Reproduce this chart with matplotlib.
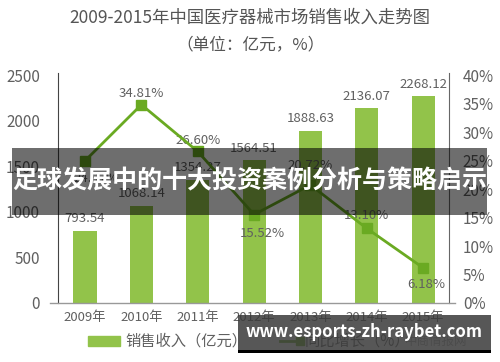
import numpy as np
import matplotlib.pyplot as plt
from matplotlib.patches import Rectangle
from matplotlib.lines import Line2D

plt.rcParams['font.family'] = ['Noto Sans CJK SC', 'DejaVu Sans']

# 数据
years = ['2009年', '2010年', '2011年', '2012年', '2013年', '2014年', '2015年']
sales = [793.54, 1068.14, 1354.27, 1564.51, 1888.63, 2136.07, 2268.12]
growth = [24.97, 34.81, 26.60, 15.52, 20.72, 13.10, 6.18]
left_ticks = [0, 500, 1000, 1500, 2000, 2500]
right_ticks = [0, 5, 10, 15, 20, 25, 30, 35, 40]

bar_c = '#92c34a'
line_c = '#6aaa22'
txt_c = '#606060'

fig = plt.figure(figsize=(5, 3.62), dpi=100)
ax = fig.add_axes([0.116, 0.163, 0.782, 0.635])
x = np.arange(len(years))
ax.bar(x, sales, width=0.41, color=bar_c, zorder=2)
ax.set_xlim(-0.48, 6.46)
ax.set_ylim(0, 2522)
ax.set_yticks(left_ticks)
ax.set_yticklabels([str(v) for v in left_ticks], size=11, color=txt_c)
ax.set_xticks(x)
ax.set_xticklabels(years, size=9.5, color=txt_c)
ax.tick_params(length=0, pad=6)
ax.tick_params(axis='y', pad=13)
ax.spines[['top', 'bottom']].set_visible(False)
ax.spines['left'].set_color('#444444')
ax.spines['right'].set_color('#666666')
ax.axhline(0, xmin=-0.02, xmax=1.015, color='#999999', lw=1, clip_on=False, zorder=3)
for i, v in enumerate(sales):
    ax.text(i, v + 60, '%.2f' % v, ha='center', va='bottom', size=9.5, color=txt_c)

ax2 = ax.twinx()
ax2.set_ylim(0, 40.35)
ax2.plot(x, growth, color=line_c, lw=2, marker='s', ms=7, zorder=4)
ax2.set_yticks(right_ticks)
ax2.set_yticklabels([str(v) + '%' for v in right_ticks], size=11, color=txt_c)
ax2.tick_params(length=0, pad=10)
for s in ['top', 'bottom', 'left', 'right']:
    ax2.spines[s].set_visible(False)
# 百分比标注（上/下）
offs = [(0.2, -3.2), (0, 2.0), (0, 2.0), (0.15, -3.3), (0, 3.4), (0, 2.2), (0.05, -3.0)]
for i, v in enumerate(growth):
    dx, dy = offs[i]
    ax2.text(i + dx, v + dy, '%.2f%%' % v, ha='center', va='center', size=9.5, color=txt_c)

fig.text(0.5, 0.95, '2009-2015年中国医疗器械市场销售收入走势图', ha='center', va='center',
         size=12.5, color='#555555')
fig.text(0.5, 0.875, '（单位：亿元，%）', ha='center', va='center', size=12, color='#555555')

# 图例
fig.patches.append(Rectangle((0.176, 0.043), 0.064, 0.03, transform=fig.transFigure,
                             color=bar_c, figure=fig))
fig.text(0.25, 0.058, '销售收入（亿元）', ha='left', va='center', size=11, color=txt_c)
fig.lines.append(Line2D([0.56, 0.6], [0.058, 0.058], transform=fig.transFigure,
                        color=line_c, lw=2, marker='s', ms=6, markevery=[1], figure=fig))
fig.text(0.61, 0.058, '同比增长（%）', ha='left', va='center', size=11, color=txt_c)
fig.text(0.81, 0.058, '中商情报网', ha='left', va='center', size=9, color='#aaaaaa')

# 遮罩标题
fig.patches.append(Rectangle((0.024, 0.406), 0.95, 0.185, transform=fig.transFigure,
                             color='black', alpha=0.57, lw=0, figure=fig, zorder=10))
fig.text(0.5, 0.5, '足球发展中的十大投资案例分析与策略启示', ha='center', va='center',
         size=18, color='white', weight='bold', zorder=11)
fig.patches.append(Rectangle((0.476, 0.033), 0.506, 0.097, transform=fig.transFigure,
                             color='#3a3a3a', alpha=0.85, lw=0, figure=fig, zorder=10))
fig.patches.append(Rectangle((0.476, 0.025), 0.506, 0.009, transform=fig.transFigure,
                             color='black', lw=0, figure=fig, zorder=10))
fig.text(0.728, 0.082, 'www.esports-zh-raybet.com', ha='center', va='center',
         size=12, color='white', weight='bold', zorder=11)

plt.savefig('out.png', dpi=100)
